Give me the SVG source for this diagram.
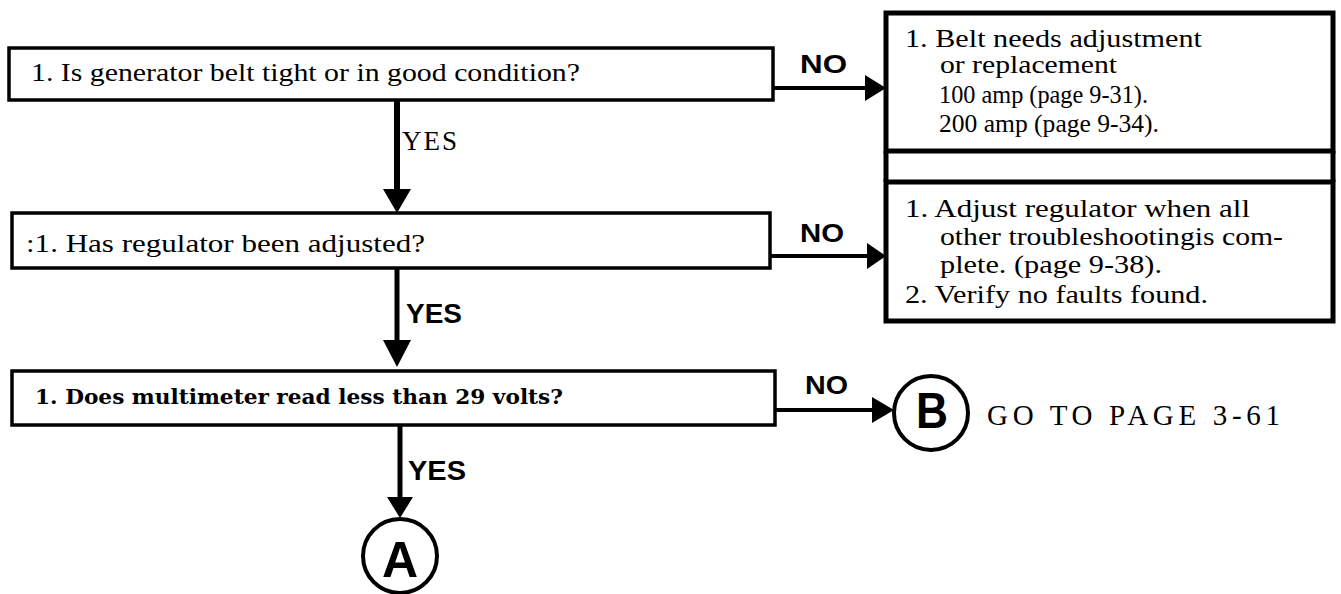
<svg xmlns="http://www.w3.org/2000/svg" width="1341" height="594" viewBox="0 0 1341 594">
<style>
.box{fill:#fff;stroke:#000;stroke-width:3.5}
.rbox{fill:#fff;stroke:#000;stroke-width:5}
.conn{stroke:#000;fill:none}
.serif{font-family:"Liberation Serif","Times New Roman",serif;fill:#000}
.book{font-family:"DejaVu Serif",serif;font-weight:bold;fill:#000}
.sans{font-family:"Liberation Sans",Arial,sans-serif;font-weight:bold;fill:#000}
.circ{fill:#fff;stroke:#000;stroke-width:4}
</style>
<rect width="1341" height="594" fill="#fff"/>
<g id="connectors">
  <line class="conn" x1="397" y1="100" x2="397" y2="192" stroke-width="6"/>
  <polygon points="383,189 411,189 397,213"/>
  <line class="conn" x1="397" y1="268" x2="397" y2="343" stroke-width="5"/>
  <polygon points="383,340 411,340 397,367"/>
  <line class="conn" x1="400" y1="425" x2="400" y2="500" stroke-width="5"/>
  <polygon points="387,497 413,497 400,518"/>
  <line class="conn" x1="773" y1="88" x2="868" y2="88" stroke-width="4"/>
  <polygon points="865,75 865,101 886,88"/>
  <line class="conn" x1="770" y1="256" x2="870" y2="256" stroke-width="4"/>
  <polygon points="867,243 867,269 886,256"/>
  <line class="conn" x1="775" y1="410" x2="875" y2="410" stroke-width="4"/>
  <polygon points="872,397 872,423 894,410"/>
  <text class="sans" x="800" y="73" font-size="26" textLength="47" lengthAdjust="spacingAndGlyphs">NO</text>
  <text class="sans" x="800" y="242" font-size="26" textLength="44" lengthAdjust="spacingAndGlyphs">NO</text>
  <text class="sans" x="805" y="394" font-size="26" textLength="43" lengthAdjust="spacingAndGlyphs">NO</text>
  <text class="serif" x="402" y="150" font-size="27" textLength="55" lengthAdjust="spacing">YES</text>
  <text class="sans" x="406" y="323" font-size="27" textLength="56" lengthAdjust="spacingAndGlyphs">YES</text>
  <text class="sans" x="408" y="480" font-size="27" textLength="58" lengthAdjust="spacingAndGlyphs">YES</text>
</g>
<g id="q1">
  <rect class="box" x="9" y="48" width="764" height="52"/>
  <text class="serif" x="31" y="81" font-size="26" textLength="549" lengthAdjust="spacingAndGlyphs">1.  Is  generator  belt  tight  or  in  good  condition?</text>
</g>
<g id="q2">
  <rect class="box" x="12" y="213" width="758" height="55"/>
  <text class="serif" x="26" y="252" font-size="26" textLength="399" lengthAdjust="spacingAndGlyphs">:1.  Has  regulator  been  adjusted?</text>
</g>
<g id="q3">
  <rect class="box" x="12" y="371" width="763" height="54"/>
  <text class="book" x="35" y="404" font-size="21" textLength="528" lengthAdjust="spacingAndGlyphs">1. Does multimeter read less than 29 volts?</text>
</g>
<g id="r1">
  <rect class="rbox" x="886" y="13" width="447" height="138"/>
  <line class="conn" x1="886" y1="151" x2="886" y2="182" stroke-width="5"/>
  <line class="conn" x1="1333" y1="151" x2="1333" y2="182" stroke-width="5"/>
  <text class="serif" x="905" y="47" font-size="25" textLength="297" lengthAdjust="spacingAndGlyphs">1.  Belt  needs  adjustment</text>
  <text class="serif" x="940" y="73" font-size="25" textLength="177" lengthAdjust="spacingAndGlyphs">or  replacement</text>
  <text class="serif" x="939" y="103" font-size="25" textLength="209" lengthAdjust="spacingAndGlyphs">100 amp (page 9-31).</text>
  <text class="serif" x="939" y="132" font-size="25" textLength="220" lengthAdjust="spacingAndGlyphs">200  amp  (page  9-34).</text>
</g>
<g id="r2">
  <rect class="rbox" x="886" y="182" width="447" height="139"/>
  <text class="serif" x="905" y="217" font-size="25" textLength="345" lengthAdjust="spacingAndGlyphs">1.  Adjust  regulator  when  all</text>
  <text class="serif" x="940" y="245" font-size="25" textLength="343" lengthAdjust="spacingAndGlyphs">other  troubleshootingis  com-</text>
  <text class="serif" x="940" y="273" font-size="25" textLength="222" lengthAdjust="spacingAndGlyphs">plete.  (page  9-38).</text>
  <text class="serif" x="905" y="303" font-size="25" textLength="303" lengthAdjust="spacingAndGlyphs">2.  Verify  no  faults  found.</text>
</g>
<g id="connA">
  <circle class="circ" cx="400" cy="556" r="37"/>
  <text class="sans" x="400" y="577" font-size="50" text-anchor="middle">A</text>
</g>
<g id="connB">
  <circle class="circ" cx="931" cy="413" r="37"/>
  <text class="sans" x="932" y="428" font-size="50" text-anchor="middle" textLength="32" lengthAdjust="spacingAndGlyphs">B</text>
</g>
<g id="goto">
  <text class="serif" x="987" y="425" font-size="29" textLength="293" lengthAdjust="spacing">GO TO PAGE 3-61</text>
</g>
</svg>
